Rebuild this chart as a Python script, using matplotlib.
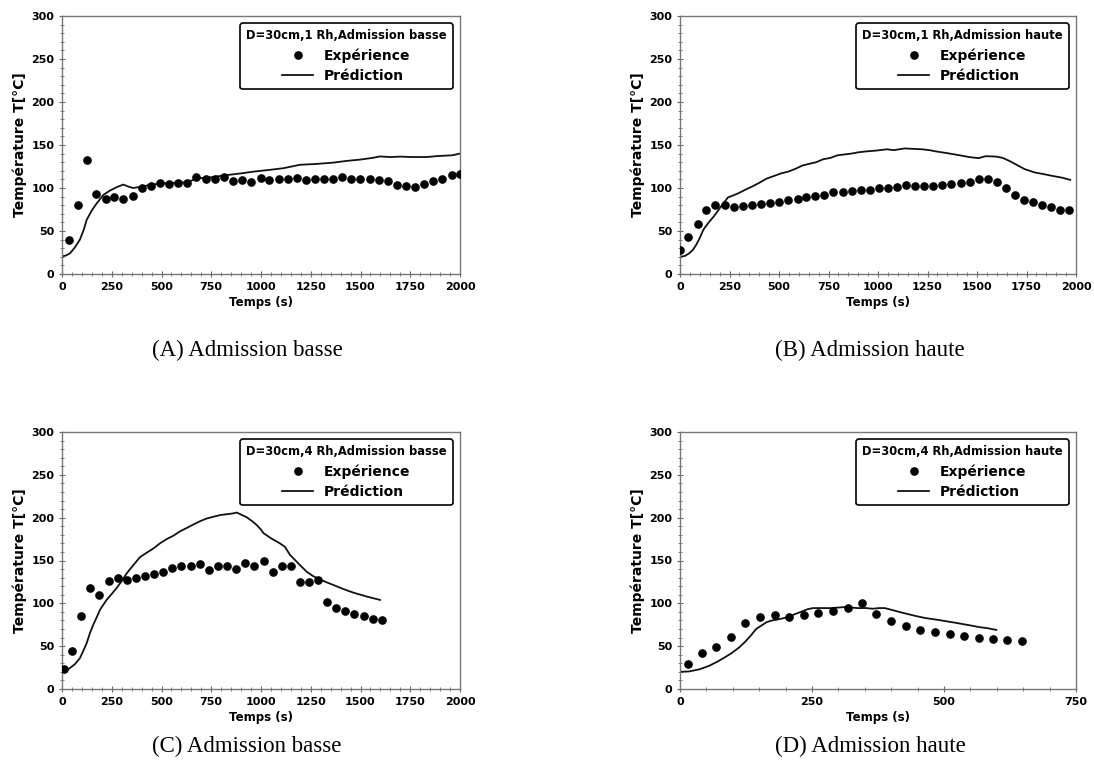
import matplotlib
matplotlib.use("Agg")
import matplotlib.pyplot as plt
from matplotlib.ticker import MultipleLocator

# Panel A: D=30cm, 1 Rh, admission basse
a_exp_t = [35, 80, 127, 172, 219, 263, 308, 355, 400, 447, 492, 538, 583, 630, 675, 722,
           767, 814, 859, 906, 951, 998, 1042, 1089, 1134, 1179, 1226, 1271, 1317, 1362,
           1409, 1454, 1499, 1546, 1591, 1637, 1683, 1729, 1774, 1821, 1866, 1911, 1958, 2000]
a_exp_T = [39.5, 80, 133, 93, 87.5, 89.5, 87.5, 91, 100, 102, 106, 105, 106, 106, 113, 110,
           110, 113, 108, 109, 107, 112, 109, 111, 111, 112, 109, 110, 111, 111,
           113, 111, 111, 110, 109, 108, 103, 102, 101, 104.5, 108, 110, 115, 116]
a_pred_t = [0, 20, 40, 65, 90, 110, 124, 150, 174, 208, 241, 275, 308, 335, 358, 409, 450,
            492, 560, 626, 677, 750, 827, 900, 961, 1040, 1112, 1196, 1280, 1363, 1430,
            1497, 1560, 1598, 1650, 1699, 1760, 1832, 1880, 1916, 1960, 2000]
a_pred_T = [20.5, 21.5, 24, 31, 40, 52, 63, 74, 82, 92, 97, 101, 104, 101.5, 100, 102, 104,
            105, 106, 106.5, 111, 112.5, 115, 117, 119, 121, 123, 127, 128, 129.5, 131.5,
            133, 135, 136.7, 136, 136.5, 136, 136, 137, 137.5, 138, 140]

# Panel B: D=30cm, 1 Rh, admission haute
b_exp_t = [0, 41, 89, 130, 178, 225, 273, 319, 365, 410, 456, 501, 547, 594, 638, 684,
           729, 775, 822, 868, 913, 959, 1005, 1052, 1096, 1142, 1189, 1234, 1280, 1324,
           1371, 1417, 1464, 1508, 1554, 1599, 1646, 1692, 1737, 1783, 1829, 1876, 1920, 1966]
b_exp_T = [27.5, 43, 58.5, 74, 80, 80, 78, 79, 80, 81, 83, 84, 86, 87, 90, 90.5,
           92, 95, 95, 97, 98, 97.5, 100, 100, 101, 103, 102.5, 102, 102, 103,
           105, 106, 107, 111, 110, 107.5, 100, 92, 86, 83.5, 80.5, 78, 75, 74]
b_pred_t = [0, 25, 46, 65, 82, 100, 118, 145, 171, 207, 242, 270, 296, 330, 367, 400, 438,
            475, 510, 546, 580, 617, 650, 688, 724, 760, 795, 830, 866, 900, 938, 990,
            1045, 1080, 1134, 1180, 1223, 1260, 1294, 1350, 1401, 1460, 1508, 1544, 1597,
            1630, 1668, 1700, 1740, 1793, 1840, 1882, 1930, 1971]
b_pred_T = [20, 21, 24, 28, 34, 42, 51.5, 60, 67, 78.5, 89, 91.5, 94, 98, 102, 106, 111,
            114, 117, 119, 122, 126, 128, 130, 133.5, 135, 138, 139, 140, 141.5, 142.5, 143.5,
            145, 144, 146, 145.5, 145, 144, 142.5, 140.5, 138.5, 136, 134.7, 137, 136.5,
            135, 131, 127, 122, 118, 116, 114, 112, 109.5]

# Panel C: D=30cm, 4 Rh, admission basse
c_exp_t = [12, 50, 97, 142, 188, 235, 280, 325, 372, 417, 462, 508, 554, 600, 647, 692,
           739, 784, 829, 874, 921, 967, 1013, 1059, 1104, 1149, 1196, 1241, 1286, 1332,
           1379, 1424, 1469, 1516, 1561, 1608]
c_exp_T = [23, 44, 85, 118, 110, 126, 129, 127, 130, 132, 134, 136, 141, 143, 143, 146,
           139, 144, 143, 140, 147, 143, 149, 137, 144, 144, 125, 125, 127, 101,
           94, 90.5, 87, 85.5, 82, 80.5]
c_pred_t = [0, 20, 40, 65, 90, 108, 124, 140, 157, 175, 191, 208, 224, 250, 275, 300, 325,
            360, 392, 425, 459, 492, 526, 560, 593, 627, 660, 695, 727, 760, 794, 828, 861,
            878, 905, 928, 955, 978, 1000, 1012, 1050, 1095, 1120, 1146, 1190, 1229, 1260,
            1296, 1330, 1363, 1410, 1464, 1530, 1598]
c_pred_T = [19.5, 21, 24.5, 29, 36, 45, 53.5, 65, 75, 84, 92.5, 98.5, 104, 111, 118, 126, 135,
            145, 154, 159, 164, 170, 175, 179, 184, 188, 192, 196, 199, 201, 203, 204, 205,
            206, 203, 200.5, 196, 191.5, 186, 182, 176, 170, 166, 156.5, 146, 137, 132,
            128, 124.5, 121.5, 117, 112.5, 108, 104]

# Panel D: D=30cm, 4 Rh, admission haute
d_exp_t = [15, 42, 69, 97, 124, 152, 179, 207, 235, 262, 289, 318, 345, 372, 400, 428,
           455, 483, 511, 538, 566, 593, 620, 648]
d_exp_T = [29.5, 41.5, 49, 60.5, 77, 84, 86, 84, 86, 89, 91, 95, 100.5, 88, 79, 74,
           69, 67, 64.5, 62, 60, 58, 57, 55.5]
d_pred_t = [0, 17, 37, 55, 71, 85, 98, 112, 124, 135, 144, 154, 164, 174, 184, 195, 205,
            218, 231, 241, 251, 268, 285, 298, 311, 325, 338, 352, 365, 378, 388, 397,
            405, 418, 432, 448, 465, 485, 505, 522, 539, 552, 566, 582, 599]
d_pred_T = [20, 20.5, 23, 27, 32, 37, 42, 48.5, 55.5, 63, 70, 74, 78, 80, 81, 82.5, 84,
            87.5, 90.5, 93, 94.4, 94.5, 94.4, 95, 95.6, 95, 94.4, 94.5, 93.7, 94.5, 94.4, 93,
            91.7, 89.5, 87.4, 85, 82.8, 81, 79, 77.3, 75.4, 74, 72.3, 71, 69]

titles = ["D=30cm,1 Rh,Admission basse", "D=30cm,1 Rh,Admission haute",
          "D=30cm,4 Rh,Admission basse", "D=30cm,4 Rh,Admission haute"]
captions = ["(A) Admission basse", "(B) Admission haute",
            "(C) Admission basse", "(D) Admission haute"]
xmax = [2000, 2000, 2000, 750]

panels = [(a_exp_t, a_exp_T, a_pred_t, a_pred_T),
          (b_exp_t, b_exp_T, b_pred_t, b_pred_T),
          (c_exp_t, c_exp_T, c_pred_t, c_pred_T),
          (d_exp_t, d_exp_T, d_pred_t, d_pred_T)]

plt.rcParams['font.family'] = ['DejaVu Sans']
plt.rcParams['font.weight'] = 'bold'

W, H = 1094, 771
fig = plt.figure(figsize=(W / 100, H / 100), dpi=100)

# axes boxes in pixels: left, top, right, bottom
boxes = [(62, 16, 460, 274), (680, 16, 1076, 274),
         (62, 432, 460, 689), (680, 432, 1076, 689)]
# caption centre (pixels)
cap_pos = [(247, 350), (870, 350), (247, 746), (870, 746)]

for i, (box, data) in enumerate(zip(boxes, panels)):
    l, t, r, b = box
    ax = fig.add_axes([l / W, 1 - b / H, (r - l) / W, (b - t) / H])
    et, eT, pt, pT = data
    ax.plot(et, eT, 'o', color='black', markersize=5.2, label='Expérience', zorder=3)
    ax.plot(pt, pT, '-', color='#111111', linewidth=1.3, label='Prédiction')
    ax.set_xlim(0, xmax[i])
    ax.set_ylim(0, 300)
    ax.xaxis.set_major_locator(MultipleLocator(250))
    ax.xaxis.set_minor_locator(MultipleLocator(50))
    ax.yaxis.set_major_locator(MultipleLocator(50))
    ax.yaxis.set_minor_locator(MultipleLocator(10))
    ax.tick_params(which='major', direction='inout', length=4, width=0.8,
                   color='#666666', labelsize=8)
    ax.tick_params(which='minor', direction='inout', length=2.5, width=0.6, color='#666666')
    for lab in ax.get_xticklabels() + ax.get_yticklabels():
        lab.set_fontweight('bold')
    for s in ax.spines.values():
        s.set_color('#777777')
        s.set_linewidth(1.0)
    ax.set_xlabel('Temps (s)', fontsize=8.5, fontweight='bold', labelpad=3)
    ax.set_ylabel('Température T[°C]', fontsize=10, fontweight='bold', labelpad=3)
    leg = ax.legend(loc='upper right', title=titles[i],
                    title_fontproperties={'size': 8.3, 'weight': 'bold'},
                    prop={'size': 10, 'weight': 'bold'}, alignment='center',
                    fancybox=True, framealpha=1, edgecolor='black',
                    handlelength=2.2, borderaxespad=0.5, labelspacing=0.45,
                    borderpad=0.45)
    leg.get_frame().set_linewidth(1.2)

    cx, cy = cap_pos[i]
    fig.text(cx / W, 1 - cy / H, captions[i], ha='center', va='center',
             fontsize=16.5, fontweight='normal', family='Liberation Serif')

fig.savefig('out.png', dpi=100)
